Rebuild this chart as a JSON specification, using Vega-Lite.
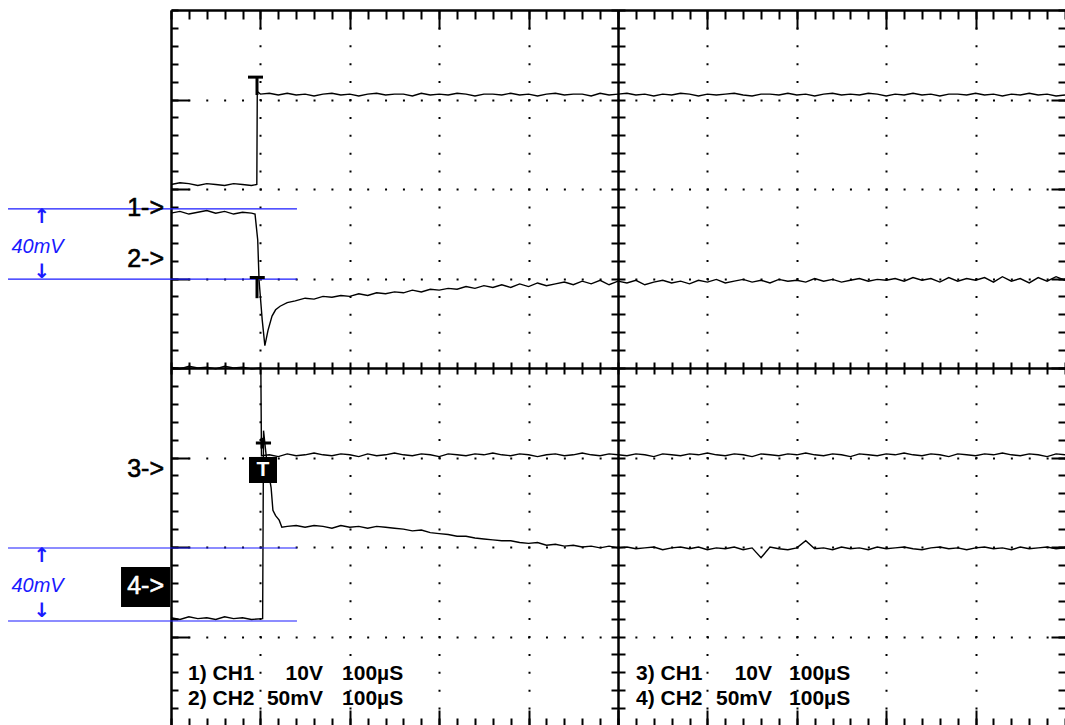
{
"$schema": "https://vega.github.io/schema/vega-lite/v6.json",
"width": 894, "height": 716,
"padding": {"left": 171, "top": 10, "right": 0, "bottom": 0},
"autosize": {"type": "none"},
"background": "white",
"config": {"view": {"stroke": null}, "axis": {"labels": false, "domain": false, "grid": false, "tickColor": "black", "tickWidth": 2, "domainColor": "black", "domainWidth": 2.5, "gridColor": "black", "gridWidth": 2}},
"resolve": {"axis": {"x": "independent", "y": "independent"}},
"datasets": {
"traces": [
{"s":"A","t":0,"v":2.05},{"s":"A","t":10,"v":2.07},{"s":"A","t":20,"v":2.06},{"s":"A","t":30,"v":2.04},{"s":"A","t":40,"v":2.06},{"s":"A","t":50,"v":2.05},{"s":"A","t":60,"v":2.04},{"s":"A","t":70,"v":2.06},{"s":"A","t":80,"v":2.05},{"s":"A","t":90,"v":2.04},{"s":"A","t":96,"v":2.05},{"s":"A","t":96.5,"v":3.09},{"s":"A","t":100,"v":3.06},
{"s":"A","t":110,"v":3.07},{"s":"A","t":120,"v":3.05},{"s":"A","t":130,"v":3.07},{"s":"A","t":140,"v":3.05},{"s":"A","t":150,"v":3.06},{"s":"A","t":160,"v":3.04},{"s":"A","t":170,"v":3.06},{"s":"A","t":180,"v":3.07},{"s":"A","t":190,"v":3.05},{"s":"A","t":200,"v":3.06},
{"s":"A","t":210,"v":3.04},{"s":"A","t":220,"v":3.06},{"s":"A","t":230,"v":3.07},{"s":"A","t":240,"v":3.05},{"s":"A","t":250,"v":3.06},{"s":"A","t":260,"v":3.06},{"s":"A","t":270,"v":3.04},{"s":"A","t":280,"v":3.07},{"s":"A","t":290,"v":3.05},{"s":"A","t":300,"v":3.06},
{"s":"A","t":310,"v":3.05},{"s":"A","t":320,"v":3.07},{"s":"A","t":330,"v":3.06},{"s":"A","t":340,"v":3.04},{"s":"A","t":350,"v":3.06},{"s":"A","t":360,"v":3.06},{"s":"A","t":370,"v":3.05},{"s":"A","t":380,"v":3.07},{"s":"A","t":390,"v":3.05},{"s":"A","t":400,"v":3.06},
{"s":"A","t":410,"v":3.04},{"s":"A","t":420,"v":3.06},{"s":"A","t":430,"v":3.07},{"s":"A","t":440,"v":3.05},{"s":"A","t":450,"v":3.06},{"s":"A","t":460,"v":3.06},{"s":"A","t":470,"v":3.04},{"s":"A","t":480,"v":3.07},{"s":"A","t":490,"v":3.05},{"s":"A","t":500,"v":3.06},
{"s":"A","t":510,"v":3.07},{"s":"A","t":520,"v":3.05},{"s":"A","t":530,"v":3.06},{"s":"A","t":540,"v":3.04},{"s":"A","t":550,"v":3.06},{"s":"A","t":560,"v":3.05},{"s":"A","t":570,"v":3.07},{"s":"A","t":580,"v":3.06},{"s":"A","t":590,"v":3.04},{"s":"A","t":600,"v":3.06},
{"s":"A","t":610,"v":3.05},{"s":"A","t":620,"v":3.06},{"s":"A","t":630,"v":3.07},{"s":"A","t":640,"v":3.05},{"s":"A","t":650,"v":3.04},{"s":"A","t":660,"v":3.06},{"s":"A","t":670,"v":3.06},{"s":"A","t":680,"v":3.05},{"s":"A","t":690,"v":3.07},{"s":"A","t":700,"v":3.05},
{"s":"A","t":710,"v":3.06},{"s":"A","t":720,"v":3.04},{"s":"A","t":730,"v":3.06},{"s":"A","t":740,"v":3.07},{"s":"A","t":750,"v":3.05},{"s":"A","t":760,"v":3.06},{"s":"A","t":770,"v":3.05},{"s":"A","t":780,"v":3.07},{"s":"A","t":790,"v":3.06},{"s":"A","t":800,"v":3.04},
{"s":"A","t":810,"v":3.06},{"s":"A","t":820,"v":3.05},{"s":"A","t":830,"v":3.07},{"s":"A","t":840,"v":3.05},{"s":"A","t":850,"v":3.06},{"s":"A","t":860,"v":3.04},{"s":"A","t":870,"v":3.06},{"s":"A","t":880,"v":3.06},{"s":"A","t":890,"v":3.05},{"s":"A","t":900,"v":3.07},
{"s":"A","t":910,"v":3.05},{"s":"A","t":920,"v":3.06},{"s":"A","t":930,"v":3.04},{"s":"A","t":940,"v":3.06},{"s":"A","t":950,"v":3.05},{"s":"A","t":960,"v":3.07},{"s":"A","t":970,"v":3.05},{"s":"A","t":980,"v":3.06},{"s":"A","t":990,"v":3.04},{"s":"A","t":1000,"v":3.05},
{"s":"B","t":0,"v":1.73},{"s":"B","t":10,"v":1.75},{"s":"B","t":20,"v":1.72},{"s":"B","t":30,"v":1.74},{"s":"B","t":40,"v":1.76},{"s":"B","t":50,"v":1.73},{"s":"B","t":60,"v":1.75},{"s":"B","t":70,"v":1.72},{"s":"B","t":80,"v":1.74},{"s":"B","t":90,"v":1.73},{"s":"B","t":94,"v":1.72},
{"s":"B","t":97,"v":1.43},{"s":"B","t":98.5,"v":0.98},{"s":"B","t":102,"v":0.54},{"s":"B","t":105,"v":0.25},{"s":"B","t":108.5,"v":0.42},{"s":"B","t":113,"v":0.58},{"s":"B","t":117,"v":0.65},{"s":"B","t":122,"v":0.69},{"s":"B","t":130,"v":0.73},{"s":"B","t":139,"v":0.75},
{"s":"B","t":150,"v":0.78},{"s":"B","t":160,"v":0.77},{"s":"B","t":170,"v":0.80},{"s":"B","t":180,"v":0.79},{"s":"B","t":190,"v":0.81},{"s":"B","t":200,"v":0.80},{"s":"B","t":210,"v":0.83},{"s":"B","t":220,"v":0.81},{"s":"B","t":230,"v":0.84},{"s":"B","t":240,"v":0.83},
{"s":"B","t":250,"v":0.85},{"s":"B","t":260,"v":0.84},{"s":"B","t":270,"v":0.87},{"s":"B","t":280,"v":0.85},{"s":"B","t":290,"v":0.88},{"s":"B","t":300,"v":0.87},{"s":"B","t":310,"v":0.89},{"s":"B","t":320,"v":0.88},{"s":"B","t":330,"v":0.91},{"s":"B","t":340,"v":0.89},
{"s":"B","t":350,"v":0.92},{"s":"B","t":360,"v":0.90},{"s":"B","t":370,"v":0.93},{"s":"B","t":380,"v":0.90},{"s":"B","t":390,"v":0.94},{"s":"B","t":400,"v":0.91},{"s":"B","t":410,"v":0.95},{"s":"B","t":420,"v":0.92},{"s":"B","t":430,"v":0.94},{"s":"B","t":440,"v":0.96},
{"s":"B","t":450,"v":0.93},{"s":"B","t":460,"v":0.97},{"s":"B","t":470,"v":0.94},{"s":"B","t":480,"v":0.98},{"s":"B","t":490,"v":0.93},{"s":"B","t":500,"v":0.97},{"s":"B","t":510,"v":0.95},{"s":"B","t":520,"v":0.98},{"s":"B","t":530,"v":0.93},{"s":"B","t":540,"v":0.96},
{"s":"B","t":550,"v":0.98},{"s":"B","t":560,"v":0.95},{"s":"B","t":570,"v":0.97},{"s":"B","t":580,"v":0.94},{"s":"B","t":590,"v":0.98},{"s":"B","t":600,"v":0.96},{"s":"B","t":610,"v":0.99},{"s":"B","t":620,"v":0.95},{"s":"B","t":630,"v":0.97},{"s":"B","t":640,"v":0.99},
{"s":"B","t":650,"v":0.96},{"s":"B","t":660,"v":0.98},{"s":"B","t":670,"v":0.95},{"s":"B","t":680,"v":0.99},{"s":"B","t":690,"v":0.97},{"s":"B","t":700,"v":0.98},{"s":"B","t":710,"v":0.96},{"s":"B","t":720,"v":1.00},{"s":"B","t":730,"v":0.97},{"s":"B","t":740,"v":0.99},
{"s":"B","t":750,"v":0.96},{"s":"B","t":760,"v":0.98},{"s":"B","t":770,"v":1.00},{"s":"B","t":780,"v":0.97},{"s":"B","t":790,"v":0.99},{"s":"B","t":800,"v":0.98},{"s":"B","t":810,"v":1.00},{"s":"B","t":820,"v":0.97},{"s":"B","t":830,"v":1.01},{"s":"B","t":840,"v":0.98},
{"s":"B","t":850,"v":1.00},{"s":"B","t":860,"v":0.96},{"s":"B","t":870,"v":1.01},{"s":"B","t":880,"v":0.97},{"s":"B","t":890,"v":1.00},{"s":"B","t":900,"v":0.98},{"s":"B","t":910,"v":1.01},{"s":"B","t":920,"v":0.96},{"s":"B","t":930,"v":1.02},{"s":"B","t":940,"v":0.97},
{"s":"B","t":950,"v":1.00},{"s":"B","t":960,"v":0.95},{"s":"B","t":970,"v":1.01},{"s":"B","t":980,"v":0.97},{"s":"B","t":990,"v":1.02},{"s":"B","t":1000,"v":0.98},
{"s":"C","t":0,"v":0.01},{"s":"C","t":10,"v":-0.01},{"s":"C","t":20,"v":0.02},{"s":"C","t":30,"v":0.00},{"s":"C","t":40,"v":0.01},{"s":"C","t":50,"v":-0.01},{"s":"C","t":60,"v":0.02},{"s":"C","t":70,"v":0.00},{"s":"C","t":80,"v":0.01},{"s":"C","t":90,"v":-0.01},{"s":"C","t":100.5,"v":0.00},{"s":"C","t":101.2,"v":-0.98},
{"s":"C","t":110,"v":-0.97},{"s":"C","t":120,"v":-0.99},{"s":"C","t":130,"v":-0.96},{"s":"C","t":140,"v":-0.98},{"s":"C","t":150,"v":-0.97},{"s":"C","t":160,"v":-0.95},{"s":"C","t":170,"v":-0.97},{"s":"C","t":180,"v":-0.98},{"s":"C","t":190,"v":-0.96},{"s":"C","t":200,"v":-0.97},
{"s":"C","t":210,"v":-0.99},{"s":"C","t":220,"v":-0.96},{"s":"C","t":230,"v":-0.98},{"s":"C","t":240,"v":-0.97},{"s":"C","t":250,"v":-0.95},{"s":"C","t":260,"v":-0.97},{"s":"C","t":270,"v":-0.98},{"s":"C","t":280,"v":-0.96},{"s":"C","t":290,"v":-0.97},{"s":"C","t":300,"v":-0.99},
{"s":"C","t":310,"v":-0.96},{"s":"C","t":320,"v":-0.97},{"s":"C","t":330,"v":-0.98},{"s":"C","t":340,"v":-0.96},{"s":"C","t":350,"v":-0.97},{"s":"C","t":360,"v":-0.95},{"s":"C","t":370,"v":-0.97},{"s":"C","t":380,"v":-0.98},{"s":"C","t":390,"v":-0.96},{"s":"C","t":400,"v":-0.97},
{"s":"C","t":410,"v":-0.99},{"s":"C","t":420,"v":-0.97},{"s":"C","t":430,"v":-0.96},{"s":"C","t":440,"v":-0.98},{"s":"C","t":450,"v":-0.97},{"s":"C","t":460,"v":-0.95},{"s":"C","t":470,"v":-0.97},{"s":"C","t":480,"v":-0.98},{"s":"C","t":490,"v":-0.96},{"s":"C","t":500,"v":-0.97},
{"s":"C","t":510,"v":-0.98},{"s":"C","t":520,"v":-0.96},{"s":"C","t":530,"v":-0.97},{"s":"C","t":540,"v":-0.99},{"s":"C","t":550,"v":-0.96},{"s":"C","t":560,"v":-0.97},{"s":"C","t":570,"v":-0.98},{"s":"C","t":580,"v":-0.96},{"s":"C","t":590,"v":-0.97},{"s":"C","t":600,"v":-0.95},
{"s":"C","t":610,"v":-0.97},{"s":"C","t":620,"v":-0.98},{"s":"C","t":630,"v":-0.96},{"s":"C","t":640,"v":-0.97},{"s":"C","t":650,"v":-0.99},{"s":"C","t":660,"v":-0.96},{"s":"C","t":670,"v":-0.97},{"s":"C","t":680,"v":-0.98},{"s":"C","t":690,"v":-0.96},{"s":"C","t":700,"v":-0.97},
{"s":"C","t":710,"v":-0.95},{"s":"C","t":720,"v":-0.97},{"s":"C","t":730,"v":-0.98},{"s":"C","t":740,"v":-0.96},{"s":"C","t":750,"v":-0.97},{"s":"C","t":760,"v":-0.99},{"s":"C","t":770,"v":-0.96},{"s":"C","t":780,"v":-0.97},{"s":"C","t":790,"v":-0.98},{"s":"C","t":800,"v":-0.96},
{"s":"C","t":810,"v":-0.97},{"s":"C","t":820,"v":-0.95},{"s":"C","t":830,"v":-0.97},{"s":"C","t":840,"v":-0.98},{"s":"C","t":850,"v":-0.96},{"s":"C","t":860,"v":-0.97},{"s":"C","t":870,"v":-0.99},{"s":"C","t":880,"v":-0.96},{"s":"C","t":890,"v":-0.97},{"s":"C","t":900,"v":-0.98},
{"s":"C","t":910,"v":-0.96},{"s":"C","t":920,"v":-0.97},{"s":"C","t":930,"v":-0.95},{"s":"C","t":940,"v":-0.97},{"s":"C","t":950,"v":-0.98},{"s":"C","t":960,"v":-0.96},{"s":"C","t":970,"v":-0.97},{"s":"C","t":980,"v":-0.99},{"s":"C","t":990,"v":-0.96},{"s":"C","t":1000,"v":-0.97},
{"s":"D","t":0,"v":-2.79},{"s":"D","t":10,"v":-2.81},{"s":"D","t":20,"v":-2.78},{"s":"D","t":30,"v":-2.80},{"s":"D","t":40,"v":-2.79},{"s":"D","t":50,"v":-2.81},{"s":"D","t":60,"v":-2.78},{"s":"D","t":70,"v":-2.80},{"s":"D","t":80,"v":-2.79},{"s":"D","t":90,"v":-2.81},{"s":"D","t":102.5,"v":-2.80},
{"s":"D","t":103.5,"v":-0.70},{"s":"D","t":107,"v":-1.03},{"s":"D","t":112,"v":-1.34},{"s":"D","t":114,"v":-1.59},{"s":"D","t":117,"v":-1.65},{"s":"D","t":121,"v":-1.70},{"s":"D","t":124,"v":-1.78},{"s":"D","t":130,"v":-1.77},
{"s":"D","t":140,"v":-1.76},{"s":"D","t":150,"v":-1.78},{"s":"D","t":160,"v":-1.76},{"s":"D","t":170,"v":-1.77},{"s":"D","t":180,"v":-1.79},{"s":"D","t":190,"v":-1.76},{"s":"D","t":200,"v":-1.78},{"s":"D","t":210,"v":-1.77},{"s":"D","t":220,"v":-1.79},{"s":"D","t":230,"v":-1.77},
{"s":"D","t":240,"v":-1.78},{"s":"D","t":250,"v":-1.79},{"s":"D","t":260,"v":-1.80},{"s":"D","t":270,"v":-1.82},{"s":"D","t":280,"v":-1.81},{"s":"D","t":290,"v":-1.84},{"s":"D","t":300,"v":-1.85},{"s":"D","t":310,"v":-1.86},{"s":"D","t":320,"v":-1.88},{"s":"D","t":330,"v":-1.88},
{"s":"D","t":340,"v":-1.90},{"s":"D","t":350,"v":-1.91},{"s":"D","t":360,"v":-1.92},{"s":"D","t":370,"v":-1.93},{"s":"D","t":380,"v":-1.93},{"s":"D","t":390,"v":-1.95},{"s":"D","t":400,"v":-1.96},{"s":"D","t":410,"v":-1.95},{"s":"D","t":420,"v":-1.98},{"s":"D","t":430,"v":-1.97},
{"s":"D","t":440,"v":-1.99},{"s":"D","t":450,"v":-1.98},{"s":"D","t":460,"v":-2.00},{"s":"D","t":470,"v":-1.99},{"s":"D","t":480,"v":-2.01},{"s":"D","t":490,"v":-1.99},{"s":"D","t":500,"v":-2.01},{"s":"D","t":510,"v":-2.00},{"s":"D","t":520,"v":-2.02},{"s":"D","t":530,"v":-2.01},
{"s":"D","t":540,"v":-2.00},{"s":"D","t":550,"v":-2.03},{"s":"D","t":560,"v":-2.01},{"s":"D","t":570,"v":-2.00},{"s":"D","t":580,"v":-2.02},{"s":"D","t":590,"v":-2.00},{"s":"D","t":600,"v":-2.03},{"s":"D","t":610,"v":-2.01},{"s":"D","t":620,"v":-2.02},{"s":"D","t":630,"v":-2.00},
{"s":"D","t":640,"v":-2.03},{"s":"D","t":650,"v":-2.01},{"s":"D","t":660,"v":-2.12},{"s":"D","t":670,"v":-2.00},{"s":"D","t":680,"v":-2.02},{"s":"D","t":690,"v":-2.03},{"s":"D","t":700,"v":-2.01},{"s":"D","t":710,"v":-1.93},{"s":"D","t":720,"v":-2.02},{"s":"D","t":730,"v":-2.01},
{"s":"D","t":740,"v":-2.03},{"s":"D","t":750,"v":-2.00},{"s":"D","t":760,"v":-2.02},{"s":"D","t":770,"v":-2.01},{"s":"D","t":780,"v":-2.03},{"s":"D","t":790,"v":-2.00},{"s":"D","t":800,"v":-2.02},{"s":"D","t":810,"v":-2.01},{"s":"D","t":820,"v":-2.00},{"s":"D","t":830,"v":-2.02},
{"s":"D","t":840,"v":-2.03},{"s":"D","t":850,"v":-2.01},{"s":"D","t":860,"v":-2.00},{"s":"D","t":870,"v":-2.02},{"s":"D","t":880,"v":-2.01},{"s":"D","t":890,"v":-2.03},{"s":"D","t":900,"v":-2.01},{"s":"D","t":910,"v":-2.00},{"s":"D","t":920,"v":-2.02},{"s":"D","t":930,"v":-2.01},
{"s":"D","t":940,"v":-2.03},{"s":"D","t":950,"v":-2.00},{"s":"D","t":960,"v":-2.02},{"s":"D","t":970,"v":-2.01},{"s":"D","t":980,"v":-2.00},{"s":"D","t":990,"v":-2.02},{"s":"D","t":1000,"v":-2.01}
],
"blue": [{"x":-182.3,"x2":140.9,"y":1.777},{"x":-182.3,"x2":140.9,"y":0.994},{"x":-182.3,"x2":140.9,"y":-2.011},{"x":-182.3,"x2":140.9,"y":-2.827}],
"markers": [{"x":86.1,"x2":102.9,"y":3.25,"y2":3.25},{"x":96.2,"x2":96.2,"y":3.25,"y2":3.05},{"x":88.1,"x2":104.9,"y":1.011,"y2":1.011},{"x":96.2,"x2":96.2,"y":1.02,"y2":0.78},{"x":94.9,"x2":111.9,"y":-0.838,"y2":-0.838},{"x":101.8,"x2":101.8,"y":-0.78,"y2":-0.9}],
"boxes": [{"x":87.25,"x2":118.6,"y":-0.994,"y2":-1.285},{"x":-55.9,"x2":-1.12,"y":-2.223,"y2":-2.67}],
"chan": [{"label":"1->","x":-7.8,"y":1.698},{"label":"2->","x":-7.8,"y":1.128},{"label":"3->","x":-7.8,"y":-1.218}],
"four": [{"label":"4->","x":-7.8,"y":-2.525}],
"tbox": [{"label":"T","x":102.9,"y":-1.14}],
"mv": [{"label":"40mV","x":-149.3,"y":1.285},{"label":"40mV","x":-149.3,"y":-2.503}],
"arrows": [{"label":"↑","x":-144.3,"y":1.62},{"label":"↓","x":-144.3,"y":1.006},{"label":"↑","x":-144.3,"y":-2.168},{"label":"↓","x":-144.3,"y":-2.782}],
"infoL": [{"label":"1) CH1","x":19,"y":-3.486},{"label":"2) CH2","x":19,"y":-3.765},{"label":"100µS","x":191.3,"y":-3.486},{"label":"100µS","x":191.3,"y":-3.765},{"label":"3) CH1","x":520.1,"y":-3.486},{"label":"4) CH2","x":520.1,"y":-3.765},{"label":"100µS","x":691.3,"y":-3.486},{"label":"100µS","x":691.3,"y":-3.765}],
"infoR": [{"label":"10V","x":170,"y":-3.486},{"label":"50mV","x":170,"y":-3.765},{"label":"10V","x":672.3,"y":-3.486},{"label":"50mV","x":672.3,"y":-3.765}]
},
"layer": [
{
"data": {"name": "traces"},
"mark": {"type": "line", "color": "black", "strokeWidth": 1.4},
"encoding": {
"x": {"field": "t", "type": "quantitative", "scale": {"domain": [0, 1000], "nice": false, "zero": false}, "axis": {"orient": "bottom", "title": null, "grid": true, "ticks": false, "values": [100,200,300,400,600,700,800,900], "gridDash": [2, 15.9], "gridDashOffset": 1}},
"y": {"field": "v", "type": "quantitative", "scale": {"domain": [-4, 4], "nice": false, "zero": false}, "axis": {"orient": "left", "title": null, "grid": true, "ticks": false, "values": [-3,-2,-1,1,2,3], "gridDash": [2, 15.88], "gridDashOffset": 1}},
"detail": {"field": "s"}
}
},
{
"data": {"name": "blue"},
"mark": {"type": "rule", "color": "#1a1aff", "strokeWidth": 1.2},
"encoding": {
"x": {"field": "x", "type": "quantitative", "axis": {"orient": "top", "title": null, "domain": true, "tickSize": -9, "values": [0,20,40,60,80,100,120,140,160,180,200,220,240,260,280,300,320,340,360,380,400,420,440,460,480,500,520,540,560,580,600,620,640,660,680,700,720,740,760,780,800,820,840,860,880,900,920,940,960,980,1000]}},
"x2": {"field": "x2"},
"y": {"field": "y", "type": "quantitative", "axis": {"orient": "left", "title": null, "domain": true, "tickSize": -7, "values": [-4,-3.8,-3.6,-3.4,-3.2,-3,-2.8,-2.6,-2.4,-2.2,-2,-1.8,-1.6,-1.4,-1.2,-1,-0.8,-0.6,-0.4,-0.2,0,0.2,0.4,0.6,0.8,1,1.2,1.4,1.6,1.8,2,2.2,2.4,2.6,2.8,3,3.2,3.4,3.6,3.8,4]}}
}
},
{
"data": {"name": "markers"},
"mark": {"type": "rule", "color": "black", "strokeWidth": 3},
"encoding": {
"x": {"field": "x", "type": "quantitative", "axis": {"orient": "top", "title": null, "tickSize": -19, "values": [100,200,300,400,500,600,700,800,900]}},
"x2": {"field": "x2"},
"y": {"field": "y", "type": "quantitative", "axis": {"orient": "left", "title": null, "tickSize": -18, "values": [-3,-2,-1,0,1,2,3]}},
"y2": {"field": "y2"}
}
},
{
"data": {"name": "boxes"},
"mark": {"type": "rect", "color": "black"},
"encoding": {
"x": {"field": "x", "type": "quantitative", "axis": {"orient": "bottom", "title": null, "tickSize": -8, "values": [0,20,40,60,80,100,120,140,160,180,200,220,240,260,280,300,320,340,360,380,400,420,440,460,480,500,520,540,560,580,600,620,640,660,680,700,720,740,760,780,800,820,840,860,880,900,920,940,960,980,1000]}},
"x2": {"field": "x2"},
"y": {"field": "y", "type": "quantitative", "axis": {"orient": "right", "title": null, "tickSize": -7, "values": [-4,-3.8,-3.6,-3.4,-3.2,-3,-2.8,-2.6,-2.4,-2.2,-2,-1.8,-1.6,-1.4,-1.2,-1,-0.8,-0.6,-0.4,-0.2,0,0.2,0.4,0.6,0.8,1,1.2,1.4,1.6,1.8,2,2.2,2.4,2.6,2.8,3,3.2,3.4,3.6,3.8,4]}},
"y2": {"field": "y2"}
}
},
{
"data": {"name": "chan"},
"mark": {"type": "text", "color": "black", "font": "Liberation Sans", "fontSize": 25, "align": "right", "baseline": "alphabetic", "stroke": "black", "strokeWidth": 0.6},
"encoding": {
"x": {"field": "x", "type": "quantitative", "axis": {"orient": "bottom", "title": null, "tickSize": -16, "values": [100,200,300,400,500,600,700,800,900]}},
"y": {"field": "y", "type": "quantitative", "axis": {"orient": "right", "title": null, "tickSize": -14, "values": [-3,-2,-1,0,1,2,3]}},
"text": {"field": "label"}
}
},
{
"data": {"name": "four"},
"mark": {"type": "text", "color": "white", "font": "Liberation Sans", "fontSize": 25, "align": "right", "baseline": "alphabetic", "stroke": "white", "strokeWidth": 0.6},
"encoding": {
"x": {"field": "x", "type": "quantitative", "axis": {"orient": "bottom", "offset": -358, "title": null, "domain": true, "tickSize": 6, "values": [0,20,40,60,80,100,120,140,160,180,200,220,240,260,280,300,320,340,360,380,400,420,440,460,480,500,520,540,560,580,600,620,640,660,680,700,720,740,760,780,800,820,840,860,880,900,920,940,960,980,1000]}},
"y": {"field": "y", "type": "quantitative", "axis": {"orient": "left", "offset": -447, "title": null, "domain": true, "tickSize": 7, "values": [-4,-3.8,-3.6,-3.4,-3.2,-3,-2.8,-2.6,-2.4,-2.2,-2,-1.8,-1.6,-1.4,-1.2,-1,-0.8,-0.6,-0.4,-0.2,0,0.2,0.4,0.6,0.8,1,1.2,1.4,1.6,1.8,2,2.2,2.4,2.6,2.8,3,3.2,3.4,3.6,3.8,4]}},
"text": {"field": "label"}
}
},
{
"data": {"name": "tbox"},
"mark": {"type": "text", "color": "white", "font": "Liberation Sans", "fontWeight": "bold", "fontSize": 21, "align": "center", "baseline": "middle"},
"encoding": {
"x": {"field": "x", "type": "quantitative", "axis": {"orient": "bottom", "offset": -358, "title": null, "tickSize": -6, "values": [0,20,40,60,80,100,120,140,160,180,200,220,240,260,280,300,320,340,360,380,400,420,440,460,480,500,520,540,560,580,600,620,640,660,680,700,720,740,760,780,800,820,840,860,880,900,920,940,960,980,1000]}},
"y": {"field": "y", "type": "quantitative", "axis": {"orient": "left", "offset": -447, "title": null, "tickSize": -7, "values": [-4,-3.8,-3.6,-3.4,-3.2,-3,-2.8,-2.6,-2.4,-2.2,-2,-1.8,-1.6,-1.4,-1.2,-1,-0.8,-0.6,-0.4,-0.2,0,0.2,0.4,0.6,0.8,1,1.2,1.4,1.6,1.8,2,2.2,2.4,2.6,2.8,3,3.2,3.4,3.6,3.8,4]}},
"text": {"field": "label"}
}
},
{
"data": {"name": "mv"},
"mark": {"type": "text", "color": "#1a1aff", "font": "Liberation Sans", "fontStyle": "italic", "fontSize": 20, "align": "center", "baseline": "alphabetic"},
"encoding": {
"x": {"field": "x", "type": "quantitative", "axis": null},
"y": {"field": "y", "type": "quantitative", "axis": null},
"text": {"field": "label"}
}
},
{
"data": {"name": "arrows"},
"mark": {"type": "text", "color": "#1a1aff", "font": "DejaVu Sans", "fontSize": 20, "fontWeight": "bold", "align": "center", "baseline": "alphabetic"},
"encoding": {
"x": {"field": "x", "type": "quantitative", "axis": null},
"y": {"field": "y", "type": "quantitative", "axis": null},
"text": {"field": "label"}
}
},
{
"data": {"name": "infoL"},
"mark": {"type": "text", "color": "black", "font": "Liberation Sans", "fontWeight": "bold", "fontSize": 21, "align": "left", "baseline": "alphabetic"},
"encoding": {
"x": {"field": "x", "type": "quantitative", "axis": null},
"y": {"field": "y", "type": "quantitative", "axis": null},
"text": {"field": "label"}
}
},
{
"data": {"name": "infoR"},
"mark": {"type": "text", "color": "black", "font": "Liberation Sans", "fontWeight": "bold", "fontSize": 21, "align": "right", "baseline": "alphabetic"},
"encoding": {
"x": {"field": "x", "type": "quantitative", "axis": null},
"y": {"field": "y", "type": "quantitative", "axis": null},
"text": {"field": "label"}
}
}
]
}
